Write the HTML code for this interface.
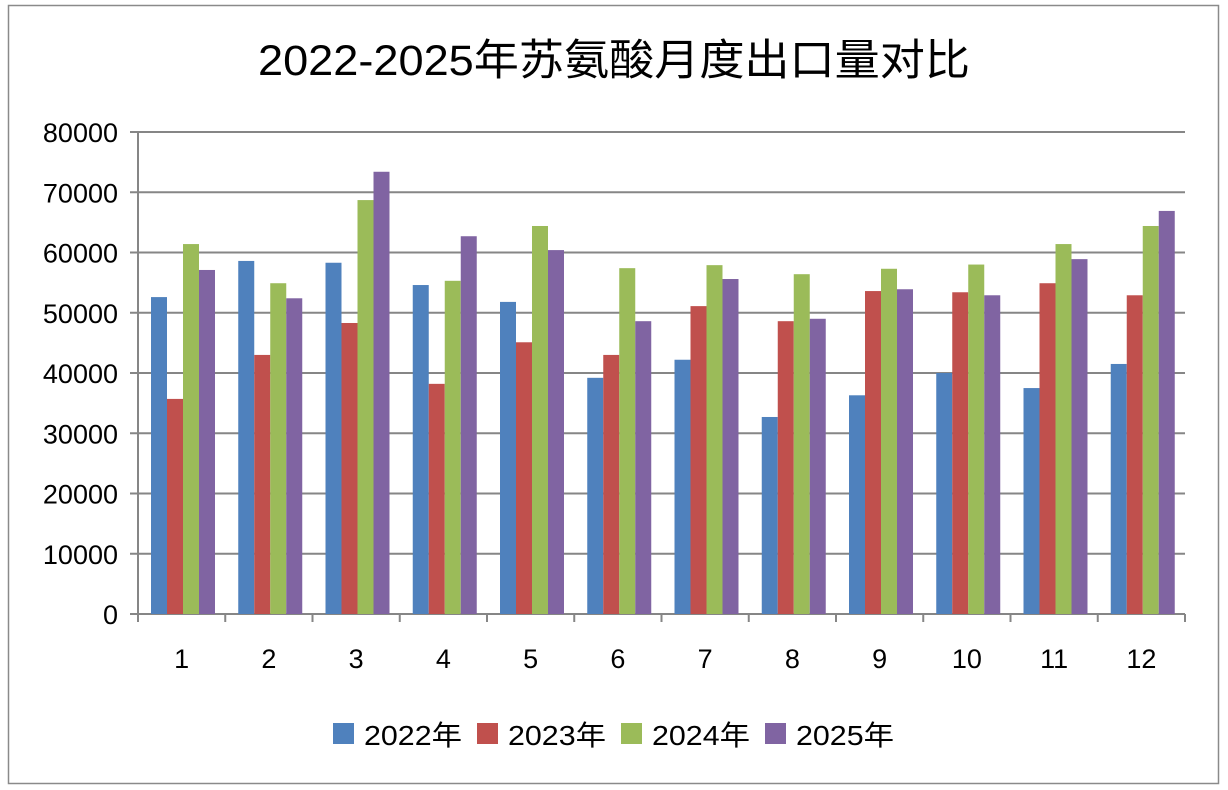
<!DOCTYPE html>
<html><head><meta charset="utf-8"><style>
body{margin:0;background:#fff;}
svg{display:block;font-family:"Liberation Sans","Noto Sans CJK SC",sans-serif;}
</style></head><body>
<svg width="1228" height="790" viewBox="0 0 1228 790">
<rect x="0" y="0" width="1228" height="790" fill="#fff"/>
<rect x="8.5" y="5.5" width="1210" height="778" fill="#fff" stroke="#8a8a8a" stroke-width="1.5"/>
<text x="614" y="75" text-anchor="middle" font-size="43" fill="#000" textLength="712" lengthAdjust="spacingAndGlyphs">2022-2025年苏氨酸月度出口量对比</text>
<g id="grid" stroke="#868686" stroke-width="2"></g>
<g id="bars"></g>
<g id="labels" font-size="27" fill="#000"></g>
<g font-size="28" fill="#000">
<rect x="333" y="723" width="21" height="21" fill="#4F81BD"/><text x="364" y="745" textLength="98" lengthAdjust="spacingAndGlyphs">2022年</text>
<rect x="477" y="723" width="21" height="21" fill="#C0504D"/><text x="508" y="745" textLength="98" lengthAdjust="spacingAndGlyphs">2023年</text>
<rect x="621" y="723" width="21" height="21" fill="#9BBB59"/><text x="652" y="745" textLength="98" lengthAdjust="spacingAndGlyphs">2024年</text>
<rect x="765" y="723" width="21" height="21" fill="#8064A2"/><text x="796" y="745" textLength="98" lengthAdjust="spacingAndGlyphs">2025年</text>
</g>
</svg>
<script>
const NS="http://www.w3.org/2000/svg";
function el(p,t,a,txt){const e=document.createElementNS(NS,t);for(const k in a)e.setAttribute(k,a[k]);if(txt!=null)e.textContent=txt;document.getElementById(p).appendChild(e);}
const y0=614,pp=482/80000,x0=138,gw=(1185-138)/12;
for(let v=0;v<=80000;v+=10000){const y=y0-v*pp;el("grid","line",{x1:130,x2:1185,y1:y,y2:y});el("labels","text",{x:118,y:y+10,"text-anchor":"end"},v);}
el("grid","line",{x1:138,x2:138,y1:132,y2:614});
for(let i=0;i<=12;i++){const x=x0+i*gw;el("grid","line",{x1:x,x2:x,y1:614,y2:622});}
const d=[[52600,35700,61400,57100],[58600,43000,54900,52400],[58300,48300,68700,73400],[54600,38200,55300,62700],[51800,45100,64400,60400],[39200,43000,57400,48600],[42200,51100,57900,55600],[32700,48600,56400,49000],[36300,53600,57300,53900],[40000,53400,58000,52900],[37500,54900,61400,58900],[41500,52900,64400,66900]];
const c=["#4F81BD","#C0504D","#9BBB59","#8064A2"];
d.forEach((g,i)=>{const gx=x0+i*gw;g.forEach((v,j)=>{const h=v*pp;el("bars","rect",{x:gx+13+j*16,y:y0-h,width:16,height:h,fill:c[j]});});
el("labels","text",{x:gx+gw/2,y:668,"text-anchor":"middle"},i+1);});
</script>
</body></html>
